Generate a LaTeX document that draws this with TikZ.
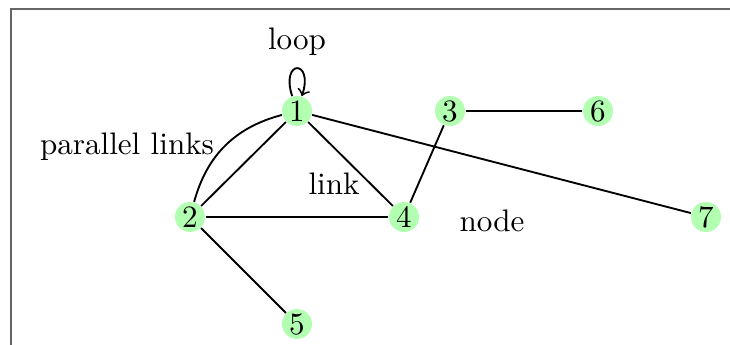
\documentclass[tikz,border=0pt]{standalone}
\begin{document}
\begin{tikzpicture}[x=0.3215pt,y=-0.3215pt,
  vertex/.style={circle,fill=green!30,inner sep=0pt,minimum size=9.65pt},
  link/.style={draw=black,semithick},
  lbl/.style={inner sep=0pt}]
\useasboundingbox (0,0) rectangle (730,345);
\clip (0,0) rectangle (730,345);
\draw[black!60,semithick] (11,9) rectangle (760,380);
\node[vertex] (1) at (297,111) {1};
\node[vertex] (2) at (190,217) {2};
\node[vertex] (3) at (450,111) {3};
\node[vertex] (4) at (404,217) {4};
\node[vertex] (5) at (297,324) {5};
\node[vertex] (6) at (598,111) {6};
\node[vertex] (7) at (706,217) {7};
\node[lbl] (tloop) at (297,42) {loop};
\node[lbl] (tpar) at (127,147) {parallel links};
\node[lbl] (tlink) at (334,184) {link};
\node[lbl] (tnode) at (492,221) {node};
\draw[link] (1) -- (2);
\draw[link] (2) to[bend left=30] (1);
\draw[link] (1) -- (4);
\draw[link] (1) -- (7);
\draw[link] (2) -- (4);
\draw[link] (2) -- (5);
\draw[link] (3) -- (4);
\draw[link] (3) -- (6);
\draw[link,->] (1) to[loop above,out=108,in=72,min distance=4.4mm] (1);
\end{tikzpicture}
\end{document}
